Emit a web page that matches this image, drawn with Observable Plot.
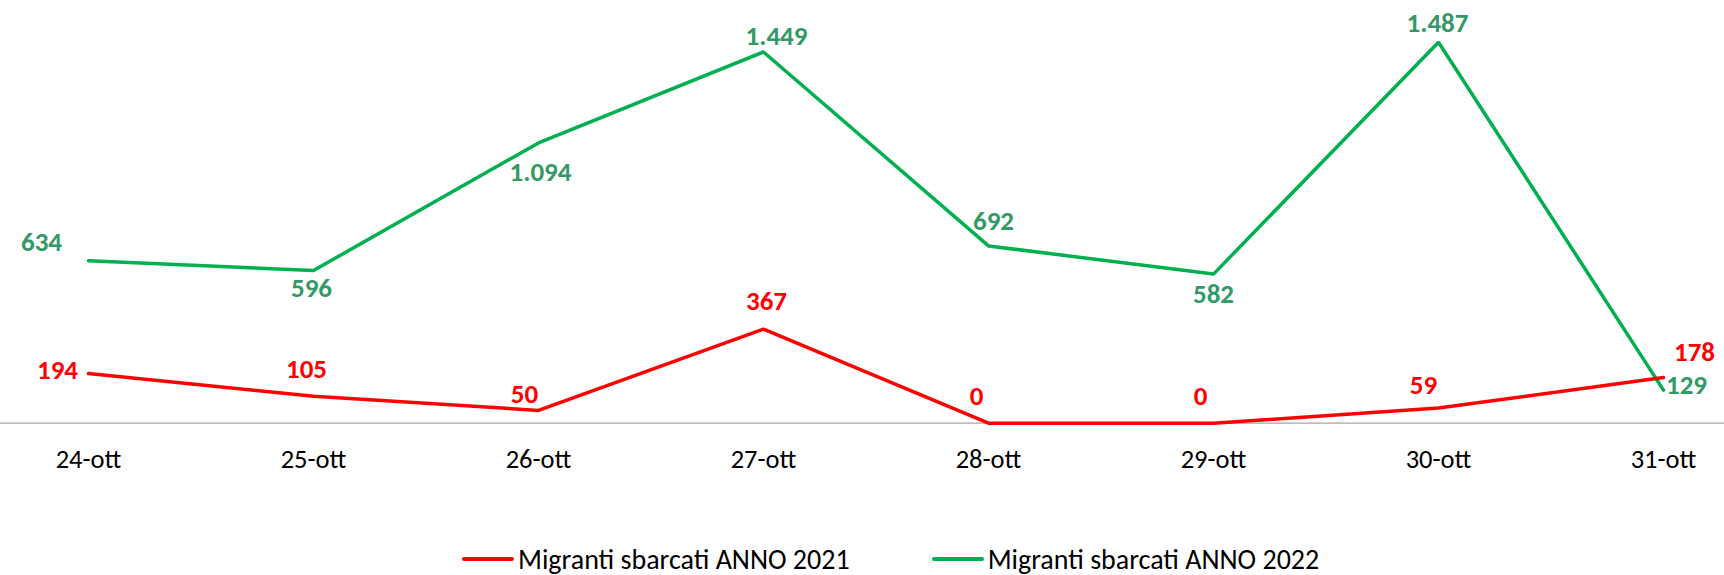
<!DOCTYPE html>
<html>
<head>
<meta charset="utf-8">
<script src="https://cdn.jsdelivr.net/npm/d3@7"></script>
<script src="https://cdn.jsdelivr.net/npm/@observablehq/plot@0.6"></script>
<style>
  html, body { margin: 0; padding: 0; background: #fff; }
  #wrap { width: 1724px; height: 575px; position: relative; overflow: hidden; font-family: Carlito, Calibri, Lato, sans-serif; }
  #legend { position: absolute; top: 543px; left: 462px; height: 32px; display: flex; align-items: center; font-size: 28px; color: #000; white-space: nowrap; }
  .sw { width: 52px; height: 4px; border-radius: 2px; margin-right: 4px; }
  .item { display: flex; align-items: center; }
</style>
</head>
<body>
<div id="wrap"></div>
<script>
// ---- Data ----
const categories = ["24-ott", "25-ott", "26-ott", "27-ott", "28-ott", "29-ott", "30-ott", "31-ott"];
const seriesNames = ["Migranti sbarcati ANNO 2021", "Migranti sbarcati ANNO 2022"];
const values2021 = [194, 105, 50, 367, 0, 0, 59, 178];
const values2022 = [634, 596, 1094, 1449, 692, 582, 1487, 129];

// ---- Layout config (label offsets relative to each point, in px) ----
const offsets2021 = [[-31, -3], [-7, -27], [-14, -16], [3, -28], [-12, -27], [-13, -27], [-15, -23], [31, -25]];
const offsets2022 = [[-47, -18], [-2, 18], [2, 29], [13, -16], [5, -25], [0, 20], [-1, -19], [23, -5]];

const red = "#FF0000";
const green = "#00B050";
const greenText = "#339966";

const fmt = d3.formatLocale({decimal: ",", thousands: ".", grouping: [3], currency: ["€", ""]}).format(",d");

const rows2021 = categories.map((c, i) => ({day: c, value: values2021[i], series: seriesNames[0]}));
const rows2022 = categories.map((c, i) => ({day: c, value: values2022[i], series: seriesNames[1]}));

const labelMarks = (rows, offs, color) => rows.map((d, i) => Plot.text([d], {
  x: "day", y: "value", text: r => fmt(r.value),
  dx: offs[i][0], dy: offs[i][1],
  fill: color, fontWeight: "bold", fontSize: 27
}));

const chart = Plot.plot({
  width: 1724,
  height: 500,
  marginLeft: 0,
  marginRight: 0,
  marginTop: 12.8,
  marginBottom: 77.3,
  style: {fontFamily: "Carlito, Calibri, Lato, sans-serif", background: "#fff", overflow: "visible"},
  x: {type: "point", domain: categories, range: [85, 1665], padding: 0, label: null},
  y: {domain: [0, 1600], axis: null},
  marks: [
    Plot.ruleY([0], {stroke: "#A6A6A6", strokeWidth: 1.3}),
    Plot.axisX({tickSize: 0, tickPadding: 26, fontSize: 26.5, fill: "#000", label: null}),
    Plot.lineY(rows2022, {x: "day", y: "value", stroke: green, strokeWidth: 3.5, strokeLinejoin: "miter"}),
    Plot.lineY(rows2021, {x: "day", y: "value", stroke: red, strokeWidth: 3.5, strokeLinejoin: "miter"}),
    ...labelMarks(rows2022, offsets2022, greenText),
    ...labelMarks(rows2021, offsets2021, red)
  ]
});

const wrap = document.getElementById("wrap");
wrap.appendChild(chart);

const legend = document.createElement("div");
legend.id = "legend";
const colors = [red, green];
seriesNames.forEach((name, i) => {
  const item = document.createElement("div");
  item.className = "item";
  if (i > 0) item.style.marginLeft = "82px";
  const sw = document.createElement("div");
  sw.className = "sw";
  sw.style.background = colors[i];
  const t = document.createElement("span");
  t.textContent = name;
  item.appendChild(sw);
  item.appendChild(t);
  legend.appendChild(item);
});
wrap.appendChild(legend);
</script>
</body>
</html>
